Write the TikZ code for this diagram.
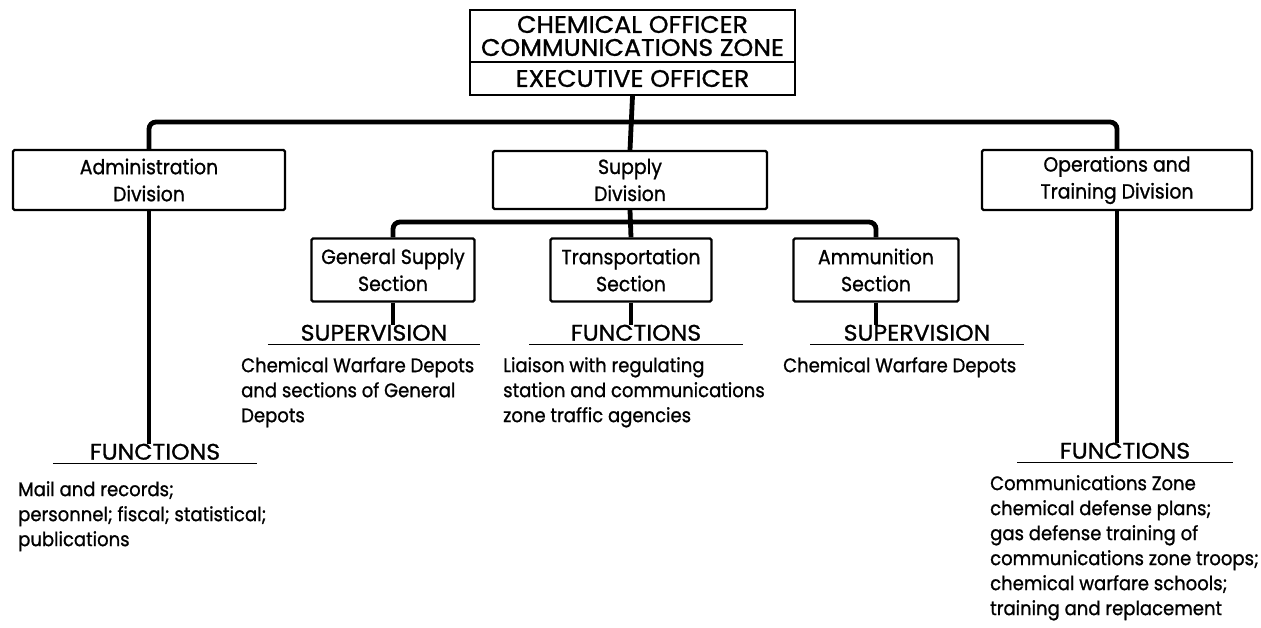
\documentclass[tikz,border=0pt]{standalone}
\usepackage{fontspec}
\setmainfont{Poppins}[FakeStretch=0.92,FakeBold=1]
\newfontfamily\capsfont{Poppins}[FakeStretch=1.05,FakeBold=1]
\begin{document}
\begin{tikzpicture}[x=1pt,y=-1pt,
  box/.style={draw,line width=2.2pt,rounded corners=1.5pt,align=center,inner sep=0pt,
    font=\fontsize{20.5}{27}\selectfont},
  topbox/.style={draw,line width=2.2pt,align=center,inner sep=0pt,minimum width=325pt,
    font=\capsfont\fontsize{24}{23}\selectfont},
  conn/.style={line width=4.8pt,rounded corners=7pt},
  hdr/.style={inner sep=0pt,anchor=south,font=\capsfont\fontsize{22.5}{25}\selectfont},
  uline/.style={line width=1.8pt},
  body/.style={inner sep=0pt,anchor=north west,align=left,font=\fontsize{19.6}{25}\selectfont}
]
\useasboundingbox (0,0) rectangle (1261,627);
% top box
\node[topbox,minimum height=52pt] (chem) at (632.5,36) {CHEMICAL OFFICER\\COMMUNICATIONS ZONE};
\node[topbox,minimum height=33pt] (exec) at (632.5,78.5) {EXECUTIVE OFFICER};
% divisions
\node[box,minimum width=272pt,minimum height=60pt] (admin) at (149,180) {Administration\\Division};
\node[box,minimum width=274pt,minimum height=58pt] (supply) at (630,180) {Supply\\Division};
\node[box,minimum width=270pt,minimum height=60pt] (ops) at (1117,180) {Operations and\\Training Division};
% sections
\node[box,minimum width=163pt,minimum height=63pt] (gss) at (393,270) {General Supply\\Section};
\node[box,minimum width=161pt,minimum height=63pt] (trans) at (631,270) {Transportation\\Section};
\node[box,minimum width=165pt,minimum height=63pt] (ammo) at (876,270) {Ammunition\\Section};
% connector coordinates
\coordinate (bar) at (632,122);
\coordinate (subbar) at (631,222);
% headers
\node[hdr,minimum width=204pt] (adminfn) at (155,460) {FUNCTIONS};
\node[hdr,minimum width=212pt] (gsssup) at (374,341) {SUPERVISION};
\node[hdr,minimum width=213pt] (transfn) at (636,341) {FUNCTIONS};
\node[hdr,minimum width=213pt] (ammosup) at (917,341) {SUPERVISION};
\node[hdr,minimum width=215pt] (opsfn) at (1125,459) {FUNCTIONS};
\foreach \h in {adminfn,gsssup,transfn,ammosup,opsfn}
  \draw[uline] ([yshift=-3.5pt]\h.south west) -- ([yshift=-3.5pt]\h.south east);
% body texts
\node[body] (admintx) at (18,481) {Mail and records;\\personnel; fiscal; statistical;\\publications};
\node[body] (gsstx) at (241,357) {Chemical Warfare Depots\\and sections of General\\Depots};
\node[body] (transtx) at (503,357) {Liaison with regulating\\station and communications\\zone traffic agencies};
\node[body] (ammotx) at (783,357) {Chemical Warfare Depots};
\node[body] (opstx) at (990,475) {Communications Zone\\chemical defense plans;\\gas defense training of\\communications zone troops;\\chemical warfare schools;\\training and replacement};
% connectors
\draw[conn] (exec.south) -- (supply.north);
\draw[conn] (admin.north) |- (bar) -| (ops.north);
\draw[conn] (admin.south) -- (admin.south |- adminfn.north);
\draw[conn] (ops.south) -- (ops.south |- opsfn.north);
\draw[conn] (supply.south) -- (trans.north);
\draw[conn] (gss.north) |- (subbar) -| (ammo.north);
\draw[conn] (gss.south) -- (gss.south |- gsssup.north);
\draw[conn] (trans.south) -- (trans.south |- transfn.north);
\draw[conn] (ammo.south) -- (ammo.south |- ammosup.north);
\end{tikzpicture}
\end{document}
